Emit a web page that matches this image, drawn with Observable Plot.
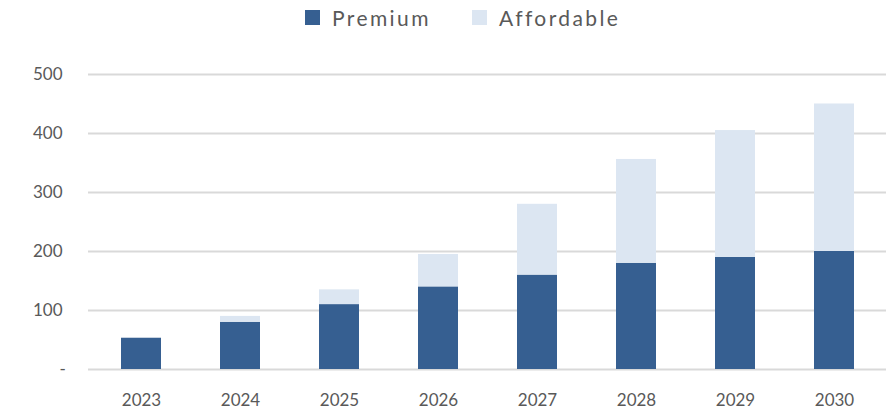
<!DOCTYPE html>
<html>
<head>
<meta charset="utf-8">
<script src="https://cdn.jsdelivr.net/npm/d3@7"></script>
<script src="https://cdn.jsdelivr.net/npm/@observablehq/plot@0.6"></script>
<style>
  html, body { margin: 0; padding: 0; background: #fff; }
  body { width: 894px; height: 410px; overflow: hidden; font-family: Lato, "Open Sans", sans-serif; }
  #legend { height: 40px; position: relative; font-size: 21px; color: #595959; letter-spacing: 2.4px; }
  .item { position: absolute; top: 5px; display: flex; align-items: center; }
  .sw { width: 15px; height: 15px; display: inline-block; margin-right: 12px; }
</style>
</head>
<body>
<div id="legend"></div>
<div id="chart"></div>
<script>
const years = ["2023", "2024", "2025", "2026", "2027", "2028", "2029", "2030"];
const premium = [53, 80, 110, 140, 160, 180, 190, 200];
const affordable = [0, 10, 25, 55, 120, 176, 215, 250];
const seriesNames = ["Premium", "Affordable"];
const seriesColors = ["#365F91", "#DCE6F2"];
const yTicks = [0, 100, 200, 300, 400, 500];

const data = [];
years.forEach((y, i) => {
  data.push({year: y, series: "Premium", value: premium[i]});
  data.push({year: y, series: "Affordable", value: affordable[i]});
});

// legend
const legend = document.getElementById("legend");
const legendX = [305, 472];
seriesNames.forEach((s, i) => {
  const it = document.createElement("div");
  it.className = "item";
  it.style.left = legendX[i] + "px";
  const sw = document.createElement("span");
  sw.className = "sw";
  sw.style.background = seriesColors[i];
  it.appendChild(sw);
  const t = document.createElement("span");
  t.textContent = s;
  it.appendChild(t);
  legend.appendChild(it);
});

const chart = Plot.plot({
  width: 894,
  height: 370,
  marginLeft: 88,
  marginRight: 8,
  marginTop: 34,
  marginBottom: 41,
  style: {fontFamily: "Lato, 'Open Sans', sans-serif", fontSize: "16px", color: "#595959", background: "#fff"},
  x: {domain: years, paddingInner: 0.6, paddingOuter: 0.3, label: null},
  y: {domain: [0, 500], label: null},
  color: {domain: seriesNames, range: seriesColors},
  marks: [
    Plot.ruleY(yTicks, {stroke: "#D9D9D9", strokeWidth: 2}),
    Plot.barY(data, {x: "year", y: "value", fill: "series", order: seriesNames}),
    Plot.axisX({tickSize: 0, tickPadding: 24, fontSize: 17, fill: "#595959"}),
    Plot.axisY({ticks: yTicks.filter(d => d > 0), tickSize: 0, tickPadding: 26, fontSize: 17, fill: "#595959", label: null}),
    Plot.text([0], {y: d => d, text: () => "-", frameAnchor: "left", dx: -29, fontSize: 17, fill: "#595959"})
  ]
});
document.getElementById("chart").appendChild(chart);
</script>
</body>
</html>
